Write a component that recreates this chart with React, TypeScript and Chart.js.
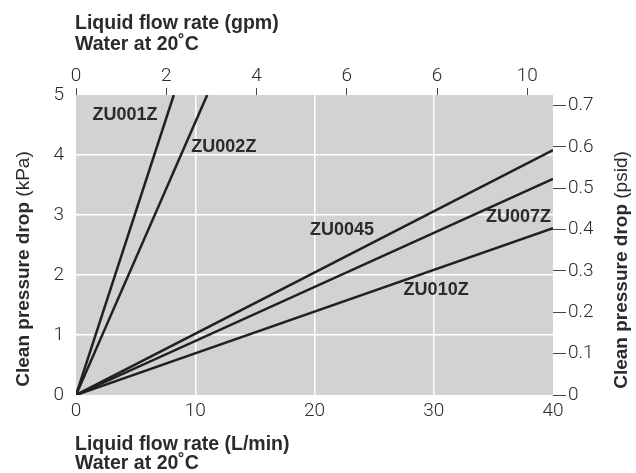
import React, { useEffect, useRef } from "react";
import { Chart, registerables } from "chart.js";

Chart.register(...registerables);

// ---- data ----
const seriesNames = ["ZU001Z", "ZU002Z", "ZU0045", "ZU007Z", "ZU010Z"];
const endFlowLmin = [8.2, 11.0, 40, 40, 40];
const endDropKPa = [5, 5, 4.08, 3.6, 2.78];
const labelFlow = [4.1, 12.4, 22.3, 37.1, 30.2];
const labelDrop = [4.67, 4.13, 2.75, 2.97, 1.75];
const bottomTicks = [0, 10, 20, 30, 40];
const leftTicks = [0, 1, 2, 3, 4, 5];
const gpmTickLabels = ["0", "2", "4", "6", "6", "10"];
const psidTickLabels = ["0", "0.1", "0.2", "0.3", "0.4", "0.5", "0.6", "0.7"];

const L_PER_GAL = 3.785;
const KPA_PER_PSI = 6.895;

const TICK_FONT = "'Roboto', sans-serif";
const TITLE_FONT = "'Liberation Sans', 'Arial', sans-serif";
const TEXT = "#2b2b2b";
const LINE = "#231f20";

const bgPlugin = {
  id: "bgPlugin",
  beforeDraw(chart: any) {
    const { ctx, chartArea } = chart;
    ctx.save();
    ctx.fillStyle = "#d1d2d4";
    ctx.fillRect(chartArea.left, chartArea.top, chartArea.right - chartArea.left, chartArea.bottom - chartArea.top);
    ctx.restore();
  },
};

function drawMixedRotated(ctx: CanvasRenderingContext2D, cx: number, cy: number, bold: string, normal: string, angle: number) {
  ctx.save();
  ctx.translate(cx, cy);
  ctx.rotate(angle);
  const bf = `bold 19px ${TITLE_FONT}`;
  const nf = `normal 19px ${TITLE_FONT}`;
  ctx.font = bf;
  const bw = ctx.measureText(bold).width;
  ctx.font = nf;
  const nw = ctx.measureText(normal).width;
  const total = bw + nw;
  ctx.textBaseline = "middle";
  ctx.textAlign = "left";
  ctx.fillStyle = TEXT;
  ctx.font = bf;
  ctx.fillText(bold, -total / 2, 0);
  ctx.font = nf;
  ctx.fillText(normal, -total / 2 + bw, 0);
  ctx.restore();
}

const textPlugin = {
  id: "textPlugin",
  afterDraw(chart: any) {
    const { ctx } = chart;
    const xs = chart.scales.x;
    const ys = chart.scales.y;
    ctx.save();
    // line labels
    ctx.font = `bold 18px ${TITLE_FONT}`;
    ctx.fillStyle = TEXT;
    ctx.textAlign = "center";
    ctx.textBaseline = "middle";
    seriesNames.forEach((n, i) => {
      ctx.fillText(n, xs.getPixelForValue(labelFlow[i]), ys.getPixelForValue(labelDrop[i]));
    });
    // axis titles
    ctx.textAlign = "left";
    ctx.textBaseline = "alphabetic";
    ctx.font = `bold 19.5px ${TITLE_FONT}`;
    ctx.fillText("Liquid flow rate (gpm)", 75, 29);
    ctx.fillText("Water at 20˚C", 75, 50);
    ctx.fillText("Liquid flow rate (L/min)", 75, 450);
    ctx.fillText("Water at 20˚C", 75, 469);
    ctx.restore();
    drawMixedRotated(ctx, 24, 269, "Clean pressure drop ", "(kPa)", -Math.PI / 2);
    drawMixedRotated(ctx, 622, 270, "Clean pressure drop ", "(psid)", -Math.PI / 2);
  },
};

export default function App() {
  const ref = useRef<HTMLCanvasElement>(null);
  useEffect(() => {
    if (!ref.current) return;
    const datasets = seriesNames.map((n, i) => ({
      label: n,
      data: [
        { x: 0, y: 0 },
        { x: endFlowLmin[i], y: endDropKPa[i] },
      ],
      showLine: true,
      borderColor: LINE,
      backgroundColor: LINE,
      borderWidth: 2.5,
      pointRadius: 0,
      xAxisID: "x",
      yAxisID: "y",
    }));
    const tickFont = { family: TICK_FONT, size: 19, weight: 300 as any };
    const chart = new Chart(ref.current, {
      type: "scatter",
      data: { datasets },
      options: {
        animation: false,
        responsive: false,
        maintainAspectRatio: false,
        layout: { padding: 0 },
        plugins: { legend: { display: false }, tooltip: { enabled: false } },
        scales: {
          x: {
            type: "linear",
            position: "bottom",
            min: 0,
            max: 40,
            afterFit: (s: any) => { s.height = 78; },
            afterBuildTicks: (s: any) => { s.ticks = bottomTicks.map((v) => ({ value: v })); },
            ticks: { font: tickFont, color: TEXT, padding: 5 },
            grid: {
              drawTicks: false,
              lineWidth: 1.5,
              color: (c: any) => (c.tick && (c.tick.value === 0 || c.tick.value === 40) ? "rgba(0,0,0,0)" : "#ffffff"),
            },
            border: { display: false },
          },
          x2: {
            type: "linear",
            position: "top",
            min: 0,
            max: 40 / L_PER_GAL,
            afterFit: (s: any) => { s.height = 95; },
            afterBuildTicks: (s: any) => { s.ticks = gpmTickLabels.map((_, i) => ({ value: i * 2 })); },
            ticks: {
              font: tickFont,
              color: TEXT,
              padding: 0,
              callback: (_v: any, i: number) => gpmTickLabels[i],
            },
            grid: { drawOnChartArea: false, tickLength: 7, tickColor: "#444", lineWidth: 1 },
            border: { display: false },
          },
          y: {
            type: "linear",
            position: "left",
            min: 0,
            max: 5,
            afterFit: (s: any) => { s.width = 76; },
            afterBuildTicks: (s: any) => { s.ticks = leftTicks.map((v) => ({ value: v })); },
            ticks: { font: tickFont, color: TEXT, padding: 12 },
            grid: {
              drawTicks: false,
              lineWidth: 1.5,
              color: (c: any) => (c.tick && (c.tick.value === 0 || c.tick.value === 5) ? "rgba(0,0,0,0)" : "#ffffff"),
            },
            border: { display: false },
          },
          y2: {
            type: "linear",
            position: "right",
            min: 0,
            max: 5 / KPA_PER_PSI,
            afterFit: (s: any) => { s.width = 83; },
            afterBuildTicks: (s: any) => { s.ticks = psidTickLabels.map((_, i) => ({ value: i / 10 })); },
            ticks: {
              font: tickFont,
              color: TEXT,
              padding: 2,
              callback: (_v: any, i: number) => psidTickLabels[i],
            },
            grid: { drawOnChartArea: false, tickLength: 13, tickColor: "#444", lineWidth: 1 },
            border: { display: false },
          },
        },
      },
      plugins: [bgPlugin, textPlugin],
    });
    return () => chart.destroy();
  }, []);
  return (
    <div style={{ position: "absolute", left: 0, top: 0, width: 636, height: 473, background: "#fff" }}>
      <canvas ref={ref} width={636} height={473} />
    </div>
  );
}
